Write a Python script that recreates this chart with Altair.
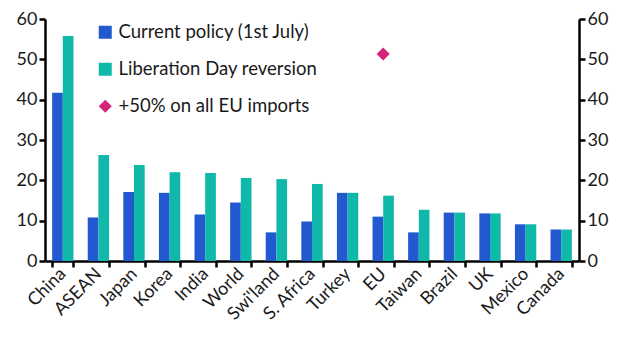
import altair as alt
import pandas as pd

countries = ["China", "ASEAN", "Japan", "Korea", "India", "World", "Swi'land",
             "S. Africa", "Turkey", "EU", "Taiwan", "Brazil", "UK", "Mexico", "Canada"]
current = [41.7, 10.8, 17.1, 16.9, 11.5, 14.5, 7.1, 9.8, 16.9, 11.0, 7.1, 12.0, 11.8, 9.1, 7.8]
liberation = [55.8, 26.3, 23.8, 22.0, 21.8, 20.6, 20.3, 19.1, 16.9, 16.2, 12.7, 12.0, 11.8, 9.1, 7.8]
eu_country = ["EU"]
eu_value = [51.3]

series_names = ["Current policy (1st July)", "Liberation Day reversion", "+50% on all EU imports"]
series_colors = ["#2259cf", "#0fb8a9", "#d42379"]
series_shapes = ["square", "square", "diamond"]

bars = pd.DataFrame({
    "country": countries * 2,
    "value": current + liberation,
    "series": [series_names[0]] * len(countries) + [series_names[1]] * len(countries),
})
pts = pd.DataFrame({"country": eu_country, "value": eu_value, "series": [series_names[2]]})

FONT = "Lato"
color = alt.Color("series:N", scale=alt.Scale(domain=series_names, range=series_colors),
                  legend=alt.Legend(title=None, orient="none", legendX=51, legendY=4,
                                    labelFontSize=18.5, labelFont=FONT, labelColor="#1a1a1a",
                                    symbolSize=169, rowPadding=18, labelOffset=4,
                                    symbolStrokeWidth=0, labelLimit=400))
xenc = alt.X("country:N", sort=countries, title=None,
             scale=alt.Scale(paddingInner=0.4, paddingOuter=0.2),
             axis=alt.Axis(labelAngle=-45, labelAlign="right", labelBaseline="middle",
                           tickBand="extent", labelPadding=4))
yscale = alt.Scale(domain=[0, 60], nice=False)

bar_layer = alt.Chart(bars).mark_bar().encode(
    x=xenc,
    xOffset=alt.XOffset("series:N", sort=series_names[:2]),
    y=alt.Y("value:Q", scale=yscale, title=None,
            axis=alt.Axis(values=[0, 10, 20, 30, 40, 50, 60], orient="left", grid=False)),
    color=color,
)

pt_layer = alt.Chart(pts).mark_point(filled=True, size=170, opacity=1).encode(
    x=alt.X("country:N", sort=countries),
    y=alt.Y("value:Q", scale=yscale, title=None,
            axis=alt.Axis(values=[0, 10, 20, 30, 40, 50, 60], orient="right", grid=False)),
    color=color,
    shape=alt.Shape("series:N", scale=alt.Scale(domain=series_names, range=series_shapes)),
)

chart = alt.layer(bar_layer, pt_layer).resolve_scale(y="independent").properties(
    width=534, height=242, background="white",
    autosize=alt.AutoSizeParams(type="none"),
    padding={"left": 37, "top": 11, "right": 40, "bottom": 85},
).configure_view(stroke=None).configure_axis(
    labelFont=FONT, labelFontSize=18, labelColor="#1a1a1a",
    domainColor="black", domainWidth=2.5, tickColor="black", tickWidth=2.5, tickSize=6,
    grid=False,
)

chart.save("out.html", embed_options={"renderer": "svg", "actions": False})
